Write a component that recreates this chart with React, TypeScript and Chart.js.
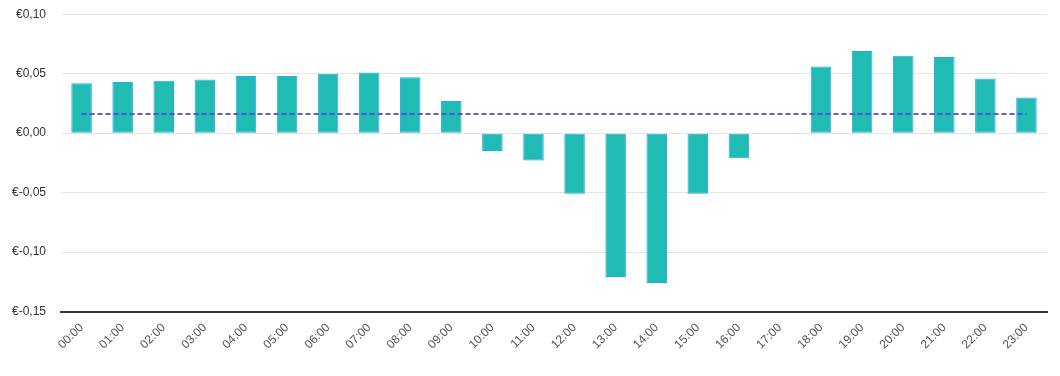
import React, { useEffect, useRef } from "react";
import { Chart, registerables } from "chart.js";

Chart.register(...registerables);

const hours: string[] = [
  "00:00", "01:00", "02:00", "03:00", "04:00", "05:00", "06:00", "07:00",
  "08:00", "09:00", "10:00", "11:00", "12:00", "13:00", "14:00", "15:00",
  "16:00", "17:00", "18:00", "19:00", "20:00", "21:00", "22:00", "23:00",
];

const prices: number[] = [
  0.042, 0.043, 0.044, 0.045, 0.048, 0.048, 0.050, 0.051,
  0.047, 0.027, -0.015, -0.023, -0.051, -0.121, -0.126, -0.051,
  -0.021, 0, 0.056, 0.069, 0.065, 0.064, 0.046, 0.030,
];

const averagePrice: number[] = hours.map(() => 0.016);

const yMin = -0.15;
const yMax = 0.1;
const yStep = 0.05;

const formatEuro = (v: number): string => "€" + v.toFixed(2).replace(".", ",");

export default function App() {
  const ref = useRef<HTMLCanvasElement | null>(null);

  useEffect(() => {
    if (!ref.current) return;
    const chart = new Chart(ref.current, {
      data: {
        labels: hours,
        datasets: [
          {
            type: "line",
            label: "Average",
            data: averagePrice,
            borderColor: "rgba(85, 70, 205, 0.9)",
            borderWidth: 2,
            borderDash: [5, 3],
            pointRadius: 0,
            fill: false,
            order: 0,
          },
          {
            type: "bar",
            label: "Price",
            data: prices,
            backgroundColor: "#20bbb3",
            borderColor: "#2aa8f0",
            borderWidth: 1,
            borderSkipped: false,
            barPercentage: 0.5,
            categoryPercentage: 1,
            order: 1,
          },
        ],
      },
      options: {
        animation: false,
        responsive: true,
        maintainAspectRatio: false,
        layout: { padding: { top: 0, right: 5, bottom: 9, left: 0 } },
        plugins: {
          legend: { display: false },
          tooltip: { enabled: false },
        },
        scales: {
          x: {
            grid: { display: false, drawTicks: false },
            border: { display: true, color: "#333333", width: 2 },
            ticks: {
              color: "#555555",
              font: { family: "Liberation Sans, Arial, sans-serif", size: 12 },
              minRotation: 45,
              maxRotation: 45,
              autoSkip: false,
              padding: 9,
            },
          },
          y: {
            min: yMin,
            max: yMax,
            grid: { color: "#e4e4e4", drawTicks: false },
            border: { display: false },
            ticks: {
              stepSize: yStep,
              color: "#333333",
              font: { family: "Liberation Sans, Arial, sans-serif", size: 12 },
              padding: 15,
              callback: (v: any) => formatEuro(Number(v)),
            },
          },
        },
      },
    } as any);
    return () => chart.destroy();
  }, []);

  return (
    <div style={{ position: "absolute", left: -3, top: -8, width: 1055, height: 378 }}>
      <canvas ref={ref} />
    </div>
  );
}
